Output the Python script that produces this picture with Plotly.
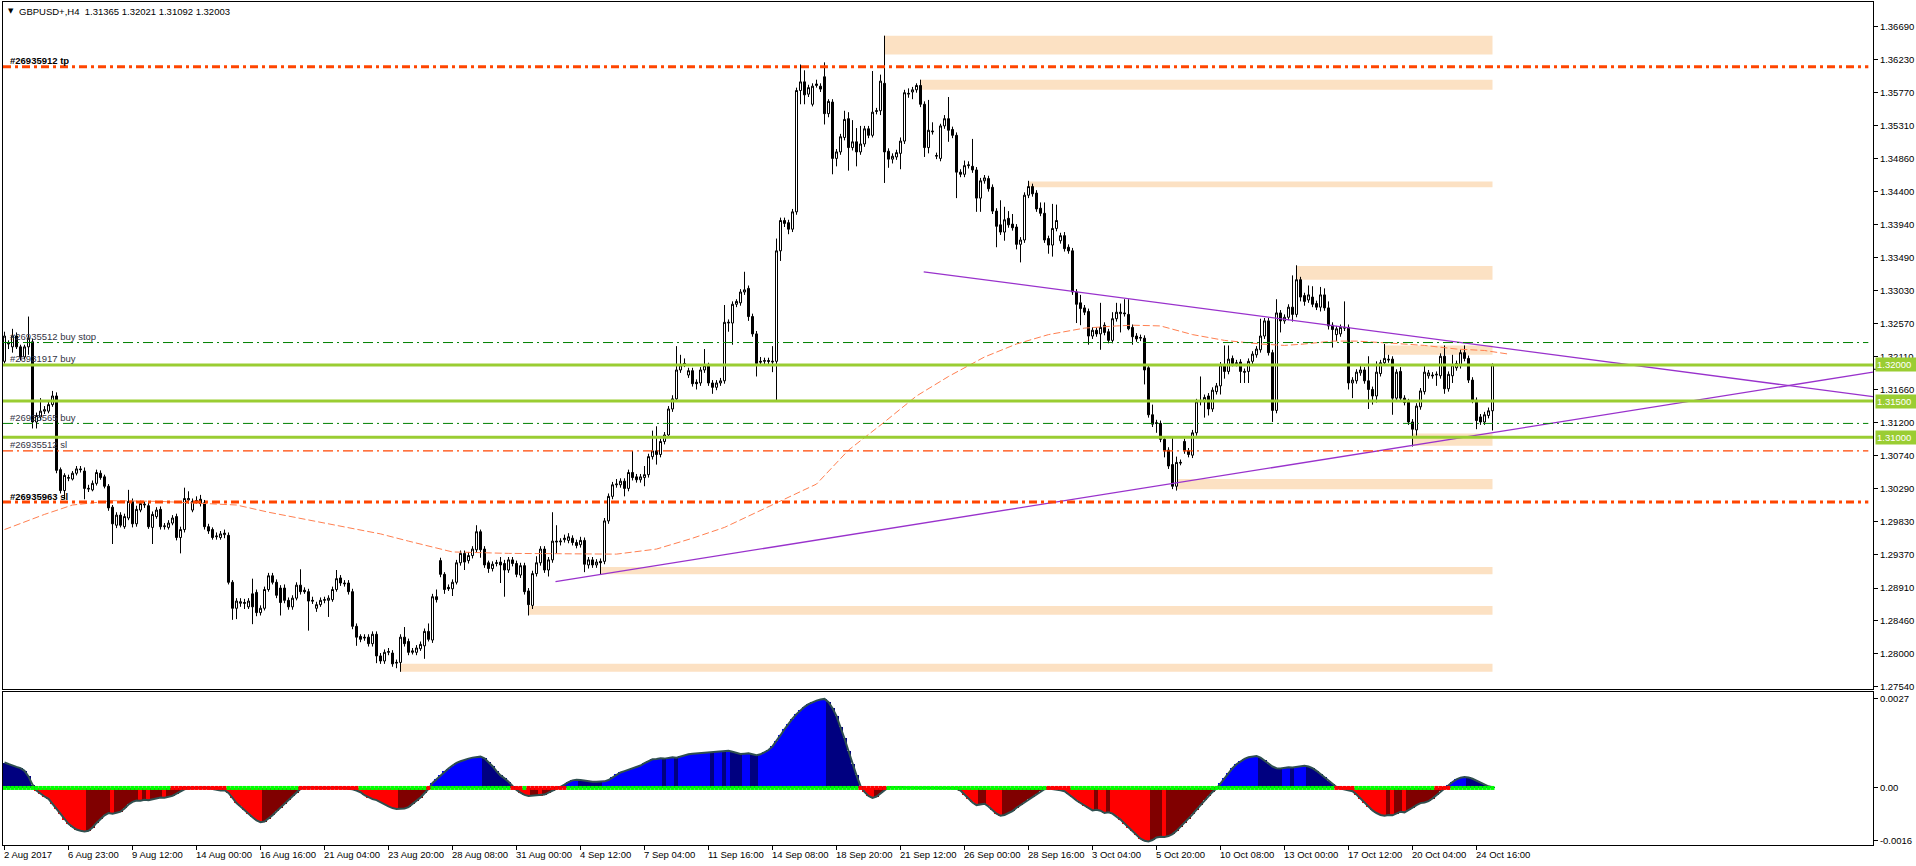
import plotly.graph_objects as go

PIP = 10000.0  # prices below are stored in 1/10000 units

# ---- H4 candles, bar index 0..372 ----
open_p = [
    13205, 13229, 13225, 13240, 13225, 13211, 13225, 13232, 13121, 13128,
    13136, 13136, 13145, 13157, 13055, 13026, 13043, 13042, 13050, 13056,
    13053, 13028, 13027, 13036, 13050, 13045, 13032, 13003, 12978, 12992,
    12976, 12988, 13011, 12980, 12999, 13006, 13005, 12975, 12990, 13000,
    12976, 12975, 12981, 12990, 12961, 12972, 13013, 12999, 13011, 13014,
    13009, 12976, 12972, 12962, 12961, 12965, 12964, 12899, 12863, 12870,
    12871, 12865, 12883, 12885, 12857, 12863, 12889, 12908, 12899, 12891,
    12891, 12874, 12865, 12877, 12895, 12888, 12886, 12874, 12863, 12868,
    12874, 12874, 12875, 12889, 12905, 12898, 12898, 12886, 12838, 12824,
    12823, 12823, 12814, 12827, 12797, 12790, 12802, 12801, 12787, 12788,
    12823, 12817, 12802, 12802, 12807, 12811, 12831, 12819, 12879, 12929,
    12910, 12892, 12890, 12899, 12926, 12939, 12929, 12936, 12944, 12969,
    12945, 12926, 12918, 12925, 12927, 12925, 12916, 12930, 12925, 12909,
    12922, 12887, 12867, 12911, 12926, 12945, 12916, 12930, 12956, 12955,
    12958, 12957, 12960, 12954, 12951, 12957, 12923, 12930, 12923, 12928,
    12928, 12984, 13018, 13034, 13034, 13039, 13029, 13051, 13045, 13041,
    13044, 13048, 13073, 13081, 13076, 13094, 13103, 13139, 13153, 13193,
    13201, 13186, 13192, 13176, 13175, 13193, 13199, 13175, 13169, 13175,
    13178, 13258, 13258, 13284, 13286, 13301, 13306, 13267, 13243, 13205,
    13205, 13206, 13204, 13205, 13358, 13400, 13397, 13388, 13412, 13580,
    13592, 13575, 13561, 13587, 13586, 13599, 13548, 13564, 13486, 13495,
    13515, 13541, 13501, 13509, 13495, 13506, 13527, 13518, 13551, 13552,
    13590, 13496, 13485, 13488, 13493, 13510, 13575, 13578, 13581, 13587,
    13561, 13501, 13524, 13489, 13486, 13531, 13541, 13526, 13518, 13467,
    13464, 13476, 13475, 13470, 13431, 13455, 13458, 13446, 13413, 13394,
    13384, 13403, 13395, 13391, 13367, 13373, 13435, 13447, 13438, 13417,
    13410, 13375, 13366, 13389, 13372, 13379, 13363, 13358, 13301, 13286,
    13279, 13274, 13240, 13248, 13243, 13255, 13246, 13234, 13264, 13271,
    13272, 13270, 13252, 13240, 13237, 13237, 13196, 13131, 13120, 13119,
    13097, 13082, 13062, 13032, 13064, 13094, 13081, 13075, 13106, 13149,
    13149, 13157, 13139, 13163, 13171, 13200, 13191, 13209, 13203, 13204,
    13191, 13191, 13205, 13214, 13221, 13240, 13261, 13217, 13137, 13272,
    13261, 13266, 13280, 13270, 13318, 13296, 13290, 13294, 13285, 13280,
    13297, 13279, 13255, 13242, 13243, 13252, 13252, 13175, 13178, 13189,
    13193, 13178, 13166, 13157, 13188, 13203, 13208, 13208, 13154, 13191,
    13154, 13149, 13121, 13110, 13142, 13163, 13185, 13186, 13186, 13185,
    13212, 13167, 13185, 13196, 13199, 13217, 13209, 13179, 13151, 13128,
    13121, 13130, 13136.5,
]
high_p = [
    13246, 13234, 13250, 13245, 13228, 13228, 13267, 13236, 13134, 13154,
    13143, 13149, 13164, 13162, 13058, 13050, 13048, 13053, 13060, 13060,
    13058, 13034, 13040, 13055, 13054, 13048, 13035, 13006, 12996, 12996,
    12994, 13027, 13015, 13005, 13012, 13011, 13009, 12997, 13003, 13004,
    12981, 12985, 12992, 12994, 12976, 13030, 13025, 13015, 13018, 13020,
    13013, 12980, 12975, 12968, 12970, 12972, 12968, 12902, 12877, 12877,
    12876, 12877, 12904, 12889, 12867, 12893, 12912, 12912, 12903, 12895,
    12896, 12878, 12881, 12899, 12917, 12892, 12890, 12879, 12872, 12878,
    12879, 12881, 12893, 12916, 12909, 12902, 12902, 12890, 12842, 12827,
    12827, 12827, 12831, 12831, 12801, 12806, 12808, 12805, 12792, 12827,
    12837, 12821, 12808, 12812, 12817, 12835, 12842, 12883, 12889, 12933,
    12913, 12896, 12903, 12930, 12943, 12943, 12941, 12949, 12978, 12972,
    12949, 12929, 12928, 12930, 12934, 12930, 12934, 12934, 12929, 12926,
    12926, 12891, 12915, 12935, 12949, 12949, 12934, 12996, 12978, 12960,
    12965, 12967, 12964, 12958, 12962, 12961, 12934, 12934, 12931, 12932,
    12988, 13022, 13038, 13042, 13043, 13043, 13055, 13081, 13049, 13049,
    13060, 13077, 13109, 13115, 13098, 13107, 13143, 13158, 13226, 13214,
    13209, 13196, 13196, 13180, 13197, 13222, 13203, 13179, 13179, 13182,
    13283, 13263, 13288, 13291, 13305, 13329, 13310, 13271, 13247, 13211,
    13210, 13210, 13226, 13375, 13404, 13404, 13401, 13416, 13584, 13616,
    13608, 13588, 13590, 13595, 13590, 13619, 13568, 13568, 13499, 13520,
    13552, 13550, 13539, 13528, 13531, 13531, 13531, 13607, 13556, 13602,
    13656, 13500, 13493, 13498, 13515, 13581, 13583, 13585, 13590, 13595,
    13565, 13567, 13536, 13494, 13534, 13546, 13571, 13530, 13522, 13471,
    13483, 13482, 13513, 13474, 13459, 13463, 13462, 13450, 13417, 13428,
    13419, 13413, 13409, 13395, 13377, 13439, 13455, 13451, 13442, 13425,
    13425, 13379, 13423, 13422, 13383, 13384, 13367, 13362, 13305, 13297,
    13283, 13278, 13252, 13252, 13286, 13259, 13250, 13273, 13286, 13285,
    13291, 13291, 13256, 13244, 13242, 13241, 13200, 13145, 13124, 13123,
    13101, 13086, 13101, 13073, 13069, 13098, 13085, 13110, 13153, 13184,
    13159, 13161, 13169, 13175, 13204, 13227, 13227, 13213, 13207, 13208,
    13195, 13209, 13219, 13226, 13264, 13265, 13265, 13221, 13291, 13276,
    13270, 13284, 13324, 13338, 13322, 13300, 13310, 13309, 13289, 13308,
    13306, 13288, 13259, 13254, 13256, 13288, 13256, 13183, 13194, 13199,
    13197, 13212, 13170, 13205, 13207, 13229, 13214, 13212, 13194, 13197,
    13158, 13153, 13125, 13147, 13168, 13199, 13193, 13190, 13191, 13216,
    13227, 13191, 13214, 13206, 13221, 13227, 13213, 13183, 13155, 13132,
    13135, 13141, 13202.1,
]
low_p = [
    13202, 13222, 13217, 13222, 13206, 13208, 13214, 13112, 13112, 13124,
    13132, 13133, 13142, 13050, 13022, 13014, 13039, 13040, 13047, 13051,
    13014, 13024, 13025, 13033, 13041, 13029, 12998, 12952, 12974, 12975,
    12973, 12985, 12975, 12976, 12996, 13002, 12973, 12952, 12987, 12972,
    12972, 12972, 12978, 12957, 12939, 12968, 13008, 12996, 13008, 13004,
    12972, 12966, 12958, 12958, 12958, 12960, 12896, 12847, 12848, 12865,
    12862, 12862, 12841, 12852, 12853, 12860, 12886, 12896, 12877, 12853,
    12870, 12861, 12861, 12874, 12882, 12883, 12832, 12869, 12858, 12865,
    12870, 12851, 12872, 12886, 12894, 12893, 12882, 12834, 12811, 12816,
    12818, 12810, 12810, 12787, 12786, 12786, 12798, 12782, 12780, 12775,
    12810, 12798, 12799, 12798, 12804, 12793, 12817, 12815, 12871, 12906,
    12883, 12887, 12880, 12896, 12922, 12916, 12925, 12932, 12940, 12933,
    12919, 12912, 12914, 12921, 12898, 12879, 12912, 12921, 12906, 12905,
    12882, 12853, 12862, 12907, 12922, 12912, 12907, 12926, 12939, 12950,
    12954, 12953, 12950, 12946, 12947, 12913, 12918, 12919, 12919, 12910,
    12924, 12980, 13014, 13030, 13030, 13018, 13025, 13040, 13037, 13037,
    13032, 13044, 13069, 13062, 13072, 13090, 13099, 13135, 13149, 13189,
    13197, 13182, 13170, 13166, 13171, 13189, 13171, 13160, 13165, 13171,
    13174, 13246, 13228, 13280, 13282, 13297, 13261, 13239, 13184, 13199,
    13200, 13201, 13190, 13149, 13344, 13391, 13381, 13384, 13408, 13561,
    13561, 13571, 13558, 13584, 13578, 13533, 13543, 13464, 13475, 13491,
    13511, 13469, 13497, 13475, 13491, 13502, 13514, 13515, 13547, 13546,
    13452, 13473, 13479, 13484, 13471, 13506, 13570, 13568, 13577, 13557,
    13488, 13493, 13519, 13485, 13482, 13527, 13509, 13514, 13431, 13460,
    13460, 13472, 13466, 13412, 13412, 13451, 13440, 13409, 13363, 13380,
    13372, 13390, 13386, 13360, 13342, 13369, 13431, 13433, 13412, 13406,
    13369, 13354, 13350, 13385, 13368, 13357, 13354, 13297, 13258, 13255,
    13269, 13228, 13236, 13239, 13221, 13241, 13230, 13230, 13260, 13245,
    13267, 13248, 13228, 13232, 13233, 13173, 13127, 13114, 13106, 13093,
    13072, 13056, 13028, 13026, 13061, 13077, 13072, 13071, 13102, 13144,
    13127, 13130, 13135, 13159, 13159, 13181, 13187, 13198, 13198, 13175,
    13175, 13175, 13201, 13210, 13217, 13236, 13213, 13121, 13133, 13245,
    13257, 13262, 13260, 13266, 13288, 13282, 13286, 13280, 13276, 13274,
    13275, 13249, 13224, 13233, 13239, 13247, 13166, 13154, 13174, 13185,
    13174, 13139, 13145, 13148, 13184, 13199, 13203, 13131, 13150, 13151,
    13144, 13117, 13087, 13102, 13138, 13159, 13181, 13181, 13171, 13181,
    13160, 13163, 13175, 13192, 13195, 13205, 13175, 13147, 13111, 13117,
    13117, 13126, 13109.2,
]
close_p = [
    13240, 13230, 13240, 13225, 13211, 13225, 13237, 13121, 13130, 13136,
    13138, 13145, 13157, 13054, 13026, 13047, 13044, 13050, 13056, 13055,
    13029, 13029, 13036, 13051, 13044, 13032, 13002, 12980, 12992, 12978,
    12990, 13011, 12980, 13000, 13008, 13007, 12976, 12993, 12999, 12976,
    12977, 12981, 12988, 12961, 12972, 13015, 13015, 13011, 13012, 13008,
    12976, 12970, 12961, 12963, 12966, 12967, 12899, 12863, 12873, 12872,
    12870, 12873, 12865, 12857, 12863, 12889, 12908, 12899, 12881, 12871,
    12874, 12865, 12877, 12895, 12886, 12886, 12873, 12873, 12868, 12874,
    12875, 12877, 12889, 12904, 12898, 12897, 12886, 12838, 12823, 12820,
    12822, 12814, 12827, 12797, 12790, 12802, 12803, 12786, 12788, 12823,
    12814, 12802, 12804, 12808, 12813, 12831, 12820, 12879, 12875, 12910,
    12889, 12890, 12899, 12926, 12939, 12927, 12936, 12945, 12969, 12944,
    12923, 12918, 12924, 12926, 12923, 12916, 12930, 12925, 12910, 12922,
    12886, 12868, 12911, 12926, 12945, 12916, 12930, 12956, 12955, 12956,
    12960, 12962, 12954, 12950, 12957, 12924, 12930, 12923, 12927, 12926,
    12984, 13018, 13034, 13035, 13039, 13029, 13051, 13044, 13041, 13045,
    13048, 13073, 13081, 13076, 13094, 13103, 13139, 13153, 13193, 13200,
    13202, 13192, 13174, 13174, 13193, 13199, 13175, 13169, 13175, 13178,
    13259, 13259, 13284, 13288, 13301, 13304, 13267, 13243, 13202, 13204,
    13206, 13205, 13205, 13358, 13400, 13396, 13388, 13412, 13580, 13592,
    13574, 13584, 13586, 13589, 13582, 13548, 13565, 13486, 13495, 13516,
    13540, 13501, 13509, 13495, 13506, 13527, 13518, 13550, 13552, 13593,
    13495, 13485, 13489, 13494, 13510, 13577, 13576, 13581, 13587, 13561,
    13501, 13525, 13523, 13490, 13531, 13541, 13525, 13518, 13467, 13464,
    13476, 13477, 13470, 13431, 13455, 13459, 13444, 13413, 13392, 13384,
    13401, 13394, 13390, 13367, 13373, 13435, 13447, 13437, 13416, 13410,
    13373, 13366, 13389, 13400, 13379, 13361, 13358, 13301, 13284, 13278,
    13273, 13240, 13248, 13243, 13252, 13245, 13234, 13264, 13273, 13273,
    13271, 13250, 13239, 13236, 13238, 13193, 13131, 13118, 13119, 13097,
    13081, 13060, 13032, 13065, 13065, 13081, 13076, 13106, 13149, 13150,
    13155, 13139, 13165, 13171, 13200, 13191, 13208, 13202, 13202, 13191,
    13190, 13205, 13215, 13222, 13240, 13261, 13217, 13137, 13272, 13261,
    13266, 13280, 13270, 13318, 13294, 13288, 13297, 13284, 13280, 13297,
    13279, 13254, 13249, 13250, 13252, 13251, 13175, 13179, 13190, 13193,
    13178, 13166, 13157, 13190, 13203, 13209, 13207, 13154, 13190, 13154,
    13148, 13121, 13111, 13143, 13164, 13190, 13189, 13185, 13187, 13212,
    13167, 13187, 13200, 13202, 13217, 13209, 13179, 13151, 13123, 13121,
    13131, 13136.5, 13200.3,
]

# slow moving average (dashed coral line), sampled at these bars
ma_bar = [0, 10, 17, 27, 39, 58, 66, 83, 94, 101, 112, 126, 143, 153, 163, 172,
          180, 188, 196, 203, 211, 220, 228, 236, 245, 253, 261, 270, 278, 282,
          289, 297, 305, 314, 320, 325, 332, 338, 347, 355, 363, 370, 376]
ma_val = [12972, 12993, 13006, 13012, 13011, 13006, 12996, 12978, 12966, 12956,
          12941, 12939, 12938, 12938, 12945, 12960, 12975, 12996, 13017, 13035,
          13082, 13121, 13157, 13184, 13211, 13229, 13242, 13251, 13254, 13255,
          13254, 13242, 13234, 13229, 13227, 13229, 13233, 13233, 13230, 13227,
          13222, 13220, 13215]

# supply / demand zones: start bar, top, bottom (all run to the last bar)
zone_start = [220, 229, 256, 323, 345, 352, 293, 149, 131, 99]
zone_top = [13656, 13595, 13454, 13337, 13227, 13105, 13042, 12920, 12866, 12786]
zone_bottom = [13630, 13581, 13446, 13318, 13214, 13088, 13028, 12910, 12854, 12775]

# trend lines (bar, price) at both ends
trend_upper = ([229.8, 467.1], [13329, 13156])
trend_lower = ([137.75, 467.1], [12900, 13190])

# order lines
order_level = [1.3613, 1.3231, 1.3119, 1.3081, 1.3010]
order_kind = ["tp", "pending", "pending", "sl", "sl_thick"]
order_text = ["<b>#26935912 tp</b>", "#26935512 buy stop", "#26935565 buy",
              "#26935512 sl", "<b>#26935963 sl</b>"]
buy_label_level = 1.3200
buy_label_text = "#26931917 buy"
hline_level = [1.3200, 1.3150, 1.3100]

price_ticks = [1.27540, 1.28000, 1.28460, 1.28910, 1.29370, 1.29830, 1.30290,
               1.30740, 1.31200, 1.31660, 1.32110, 1.32570, 1.33030, 1.33490,
               1.33940, 1.34400, 1.34860, 1.35310, 1.35770, 1.36230, 1.36690]

date_bar = list(range(0, 369, 16))
date_text = ["2 Aug 2017", "6 Aug 23:00", "9 Aug 12:00", "14 Aug 00:00",
             "16 Aug 16:00", "21 Aug 04:00", "23 Aug 20:00", "28 Aug 08:00",
             "31 Aug 00:00", "4 Sep 12:00", "7 Sep 04:00", "11 Sep 16:00",
             "14 Sep 08:00", "18 Sep 20:00", "21 Sep 12:00", "26 Sep 00:00",
             "28 Sep 16:00", "3 Oct 04:00", "5 Oct 20:00", "10 Oct 08:00",
             "13 Oct 00:00", "17 Oct 12:00", "20 Oct 04:00", "24 Oct 16:00"]

# momentum histogram, in 1e-4 units, one value per bar
momentum = [
    7.7, 7.2, 6.8, 6.4, 6.0, 5.2, 3.5, 1.0,
    -0.8, -1.8, -2.6, -3.3, -4.8, -6.5, -8.0, -9.6, -10.9, -11.8, -12.6, -13.0,
    -13.2, -13.0, -12.0, -10.6, -9.4, -8.3, -7.6, -7.8, -7.5, -7.2, -6.2, -5.0,
    -4.2, -3.8, -3.9, -3.6, -3.7, -3.4, -3.0, -2.9, -3.0, -2.7, -2.4, -1.7, -1.0, -0.4,
    -0.2, -0.1, 0.1, 0.2, 0.1, -0.1, -0.3, -0.6, -0.8, -0.7,
    -1.5, -3.0, -4.6, -5.6, -6.8, -7.8, -8.9, -9.8, -10.4, -10.2, -9.3, -8.3,
    -7.1, -6.0, -5.0, -3.8, -2.5, -1.4, -0.3,
    0.1, 0.2, 0.1, 0.0, -0.1, -0.1, 0.0, 0.1, 0.1, 0.0, -0.1, -0.2, -0.4, -0.8,
    -1.3, -2.2, -2.9, -3.4, -3.7, -4.4, -5.0, -5.6, -6.1, -6.4, -6.3, -6.2,
    -5.8, -4.9, -3.9, -2.9, -1.6, -0.3,
    1.5, 2.6, 3.8, 5.0, 5.9, 6.8, 7.6, 8.1, 8.6, 8.9, 9.2, 9.4, 9.5, 9.0, 7.9,
    6.6, 5.1, 3.8, 2.9, 1.9, 0.6,
    -0.6, -1.4, -2.1, -2.4, -2.3, -2.2, -2.3, -2.0, -1.4, -0.9, -0.3, 0.3,
    1.0, 1.8, 2.3, 2.5, 2.4, 2.2, 2.0, 1.9, 1.9, 1.9, 2.0, 2.4, 3.2, 4.1, 4.7,
    5.1, 5.5, 6.0, 6.3, 6.8, 7.5, 8.2, 8.7, 8.8, 9.0, 8.9, 9.1, 9.3, 9.2, 9.6,
    10.0, 10.2, 10.4, 10.5,
    10.6, 10.7, 10.9, 10.8, 11.0, 11.2, 11.1, 11.3, 11.0, 10.6, 10.3, 10.4,
    10.5, 10.2, 9.9, 10.2, 10.8, 11.5, 12.6, 14.2, 16.0, 17.8, 19.5, 21.0,
    22.4, 23.6, 24.6, 25.4, 26.0, 26.5, 26.8, 27.0, 26.0, 24.2, 21.8, 18.6,
    15.0, 11.2, 7.4, 3.8, 0.6,
    -1.2, -2.4, -3.0, -2.6, -1.6, -0.6, 0.2, 0.3, 0.4, 0.3, 0.2, 0.1, 0.0,
    -0.1, 0.0, 0.1, 0.0, -0.1, -0.1, 0.0, 0.0, -0.1, -0.2, -0.3,
    -0.8, -2.0, -3.2, -4.4, -5.2, -5.0, -4.8, -5.6, -6.8, -7.8, -8.4, -8.2,
    -7.6, -7.0, -6.0, -5.2, -4.2, -3.4, -2.6, -1.8, -1.0, -0.4,
    -0.2, -0.3, -0.5, -0.7, -1.0,
    -1.8, -2.8, -3.8, -4.6, -5.4, -6.2, -6.8, -6.6, -6.9, -7.6, -7.4, -7.8,
    -8.6, -9.6, -10.8, -12.0, -13.2, -14.4, -15.4, -16.0, -16.2, -15.8, -15.0,
    -14.8, -14.9, -14.6, -14.0, -13.0, -11.8, -10.6, -9.4, -8.0, -6.6, -5.2,
    -3.8, -2.4, -1.2, -0.2,
    1.4, 3.0, 4.6, 6.0, 7.2, 8.1, 8.8, 9.3, 9.6, 9.7, 9.2, 8.4, 7.4, 6.5, 6.0,
    5.9, 6.1, 6.3, 6.2, 6.4, 6.6, 6.7, 6.5, 6.0, 5.2, 4.2, 3.2, 2.2, 1.2, 0.3,
    -0.2, -0.4, -0.6, -1.0,
    -2.0, -3.2, -4.6, -5.8, -6.8, -7.6, -8.2, -8.4, -8.2, -8.3, -7.8, -7.2,
    -7.4, -6.8, -6.0, -5.2, -4.6, -4.4, -4.0, -3.2, -2.2, -1.0, -0.2,
    0.8, 1.8, 2.6, 3.1, 3.3, 3.2, 2.8, 2.2, 1.6, 1.0, 0.5, 0.2,
]
# bars where the zero-line dots are red (squeeze on)
squeeze_runs = [(42, 55), (74, 88), (106, 106), (127, 129), (131, 140),
                (214, 220), (261, 266), (333, 337), (358, 361)]

bars = list(range(len(close_p)))
assert len(open_p) == len(high_p) == len(low_p) == len(close_p) == len(momentum)

fig = go.Figure()

for s, t, b in zip(zone_start, zone_top, zone_bottom):
    fig.add_shape(type="rect", xref="x", yref="y", x0=s, x1=bars[-1],
                  y0=b / PIP, y1=t / PIP, fillcolor="#FCE1C3", line_width=0,
                  layer="below")

fig.add_trace(go.Candlestick(
    x=bars,
    open=[v / PIP for v in open_p], high=[v / PIP for v in high_p],
    low=[v / PIP for v in low_p], close=[v / PIP for v in close_p],
    increasing=dict(line=dict(color="black", width=1), fillcolor="white"),
    decreasing=dict(line=dict(color="black", width=1), fillcolor="black"),
    whiskerwidth=0, hoverinfo="skip", showlegend=False,
))

fig.add_trace(go.Scatter(x=ma_bar, y=[v / PIP for v in ma_val], mode="lines",
                         line=dict(color="#FF7F50", width=1, dash="7px,3px"),
                         hoverinfo="skip"))

for xs, ys in (trend_upper, trend_lower):
    fig.add_trace(go.Scatter(x=xs, y=[v / PIP for v in ys], mode="lines",
                             line=dict(color="#9932CC", width=1.3),
                             hoverinfo="skip"))

# horizontal levels
for lvl in hline_level:
    fig.add_shape(type="line", xref="paper", yref="y", x0=0, x1=1, y0=lvl, y1=lvl,
                  line=dict(color="#9ACD32", width=3))
    fig.add_annotation(xref="paper", yref="y", x=1, y=lvl, xanchor="left",
                       xshift=2, text=f"{lvl:.5f}", showarrow=False,
                       bgcolor="#9ACD32", font=dict(color="white", size=9.5),
                       borderpad=1, width=38, align="left")

for lvl, kind, txt in zip(order_level, order_kind, order_text):
    if kind == "pending":
        ln = dict(color="#008000", width=1, dash="10px,4px,2px,4px")
    elif kind == "sl":
        ln = dict(color="#FF4500", width=1.2, dash="10px,4px,2px,4px")
    else:
        ln = dict(color="#FF4500", width=3, dash="8px,4px,3px,4px")
    fig.add_shape(type="line", xref="paper", yref="y", x0=0, x1=0.9975,
                  y0=lvl, y1=lvl, line=ln)
    fig.add_annotation(xref="paper", yref="y", x=0, y=lvl, xanchor="left",
                       xshift=5, yanchor="middle", yshift=6, text=txt,
                       showarrow=False,
                       font=dict(size=9.5, color="black" if "<b>" in txt else "#333344"))

fig.add_annotation(xref="paper", yref="y", x=0, y=buy_label_level, xanchor="left",
                   xshift=5, yanchor="middle", yshift=6, text=buy_label_text,
                   showarrow=False, font=dict(size=9.5, color="#333344"))

# bid marker on the price scale
fig.add_shape(type="line", xref="paper", yref="y", x0=1, x1=1.03,
              y0=1.31940, y1=1.31940, line=dict(color="black", width=1))

# ---- momentum panel ----
mom = [v / PIP for v in momentum]
hist_color = []
prev = mom[0]
for v in mom:
    rising = v > prev
    if v >= 0:
        hist_color.append("#0000FF" if rising else "#000080")
    else:
        hist_color.append("#800000" if rising else "#FF0000")
    prev = v

fig.add_trace(go.Bar(x=bars, y=mom, width=1.05, marker=dict(color=hist_color, line_width=0),
                     xaxis="x2", yaxis="y2", hoverinfo="skip"))
fig.add_trace(go.Scatter(x=bars, y=mom, mode="lines", line=dict(color="#2F4F4F", width=2),
                         xaxis="x2", yaxis="y2", hoverinfo="skip"))

dot_color = ["#00FF00"] * len(bars)
for a, b in squeeze_runs:
    for k in range(a, b + 1):
        dot_color[k] = "#FF0000"
fig.add_trace(go.Scatter(x=bars, y=[0] * len(bars), mode="markers",
                         marker=dict(symbol="square", size=4, color=dot_color, line_width=0),
                         xaxis="x2", yaxis="y2", hoverinfo="skip"))

for b, txt in zip(date_bar, date_text):
    fig.add_annotation(xref="x2", yref="paper", x=b, y=0, xanchor="left", xshift=-3,
                       yanchor="top", yshift=-2, text=txt, showarrow=False,
                       font=dict(size=9.5))

fig.add_annotation(xref="paper", yref="paper", x=0, y=1, xanchor="left", xshift=3,
                   yanchor="middle", yshift=-9, text="\u25bc", showarrow=False,
                   font=dict(size=7, family="DejaVu Sans"))
fig.add_annotation(xref="paper", yref="paper", x=0, y=1, xanchor="left", xshift=14,
                   yanchor="middle", yshift=-9,
                   text="GBPUSD+,H4\u00a0\u00a01.31365 1.32021 1.31092 1.32003",
                   showarrow=False, font=dict(size=9.5))

x_range = [-0.375, 467.125]
axis_common = dict(showline=True, linecolor="black", linewidth=1, mirror=True,
                   showgrid=False, zeroline=False)
fig.update_layout(
    width=1916, height=866,
    margin=dict(l=3, r=43, t=2, b=21),
    paper_bgcolor="white", plot_bgcolor="white",
    showlegend=False,
    font=dict(family="Liberation Sans", size=9.5, color="black"),
    boxgap=0.5, boxgroupgap=0, bargap=0,
    xaxis=dict(range=x_range, domain=[0, 1], anchor="y", showticklabels=False,
               ticks="", rangeslider=dict(visible=False), **axis_common),
    yaxis=dict(domain=[0.18505, 1], range=[1.27512, 1.37026], side="right",
               anchor="x", tickvals=price_ticks,
               ticktext=[f"{v:.5f}" for v in price_ticks],
               ticks="outside", ticklen=4, tickcolor="black", **axis_common),
    xaxis2=dict(range=x_range, domain=[0, 1], anchor="y2", matches="x",
                tickvals=date_bar, showticklabels=False, ticks="outside",
                ticklen=4, tickcolor="black", **axis_common),
    yaxis2=dict(domain=[0, 0.18149], range=[-0.00173, 0.00291], side="right",
                anchor="x2", tickvals=[0.0027, 0.0, -0.0016],
                ticktext=["0.0027", "0.00", "-0.0016"], ticks="outside",
                ticklen=4, tickcolor="black", **axis_common),
)

fig.write_html(
    "out.html",
    config={"displayModeBar": False},
    post_script="document.body.style.margin='0';document.body.style.overflow='hidden';",
)
